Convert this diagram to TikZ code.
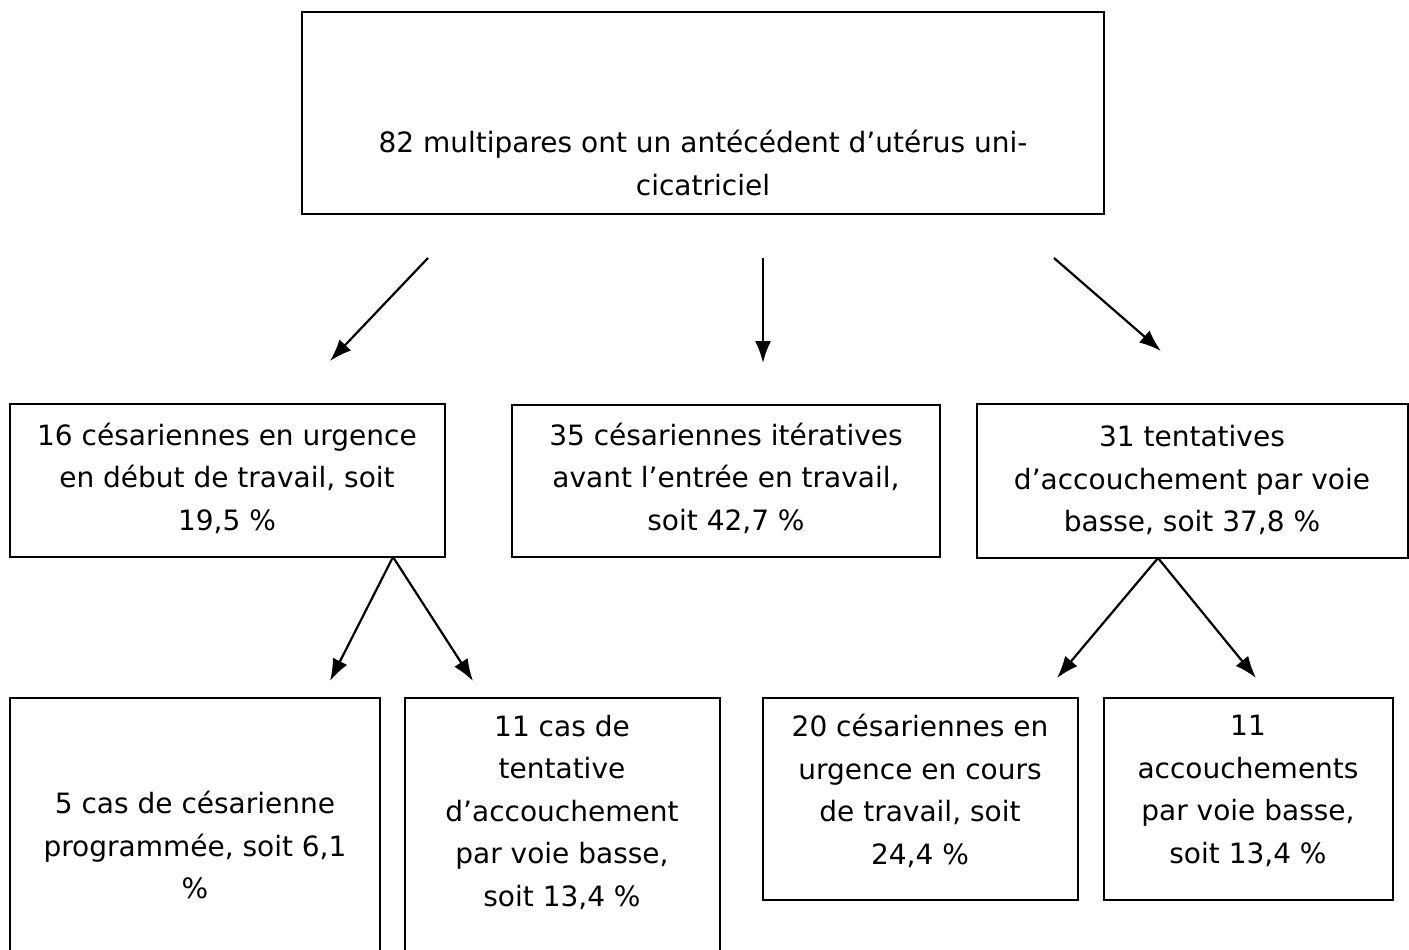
\documentclass[tikz,border=0pt]{standalone}
\usepackage{fontspec}
\setmainfont{DejaVu Sans}
\usetikzlibrary{arrows.meta}
\begin{document}
\begin{tikzpicture}[x=1pt,y=-1pt,
  box/.style={draw=black,line width=2.2pt,rectangle,inner sep=0pt},
  txt/.style={align=center,inner sep=0pt,font=\fontsize{28}{42.5}\selectfont},
  arr/.style={line width=2.2pt,-{Latex[length=22pt,width=16pt]}}]
\useasboundingbox (0,0) rectangle (1409,950);
\begin{scope}
\clip (0,0) rectangle (1409,950);
% boxes
\node[box,minimum width=802pt,minimum height=202pt] (top) at (703,113) {};
\node[box,minimum width=435pt,minimum height=153pt] (l1) at (227.5,480.5) {};
\node[box,minimum width=428pt,minimum height=152pt] (m1) at (726,481) {};
\node[box,minimum width=431pt,minimum height=154pt] (r1) at (1192.5,481) {};
\node[box,minimum width=370pt,minimum height=294pt] (b1) at (195,845) {};
\node[box,minimum width=315pt,minimum height=294pt] (b2) at (562.5,845) {};
\node[box,minimum width=315pt,minimum height=202pt] (b3) at (920.5,799) {};
\node[box,minimum width=289pt,minimum height=202pt] (b4) at (1248.5,799) {};
\end{scope}
% texts
\node[txt] (ttop) at (703,163) {82 multipares ont un antécédent d’utérus uni-\\cicatriciel};
\node[txt] (tl1) at (227,478) {16 césariennes en urgence\\en début de travail, soit\\19,5 \%};
\node[txt] (tm1) at (726,478) {35 césariennes itératives\\avant l’entrée en travail,\\soit 42,7 \%};
\node[txt] (tr1) at (1192,480) {31 tentatives\\d’accouchement par voie\\basse, soit 37,8 \%};
\node[txt] (tb1) at (195,845) {5 cas de césarienne\\programmée, soit 6,1\\\%};
\node[txt] (tb2) at (562,812) {11 cas de\\tentative\\d’accouchement\\par voie basse,\\soit 13,4 \%};
\node[txt] (tb3) at (920,791) {20 césariennes en\\urgence en cours\\de travail, soit\\24,4 \%};
\node[txt] (tb4) at (1248,791) {11\\accouchements\\par voie basse,\\soit 13,4 \%};
% arrow ends
\coordinate (s1) at (428,258);
\coordinate (e1) at (330,361);
\coordinate (s2) at (763,258);
\coordinate (e2) at (763,363);
\coordinate (s3) at (1054,258);
\coordinate (e3) at (1161,351);
\coordinate (sl) at (393,557);
\coordinate (el1) at (330,681);
\coordinate (el2) at (473,681);
\coordinate (sr) at (1158,558);
\coordinate (er1) at (1057,678);
\coordinate (er2) at (1256,678);
\draw[arr] (s1) -- (e1);
\draw[arr] (s2) -- (e2);
\draw[arr] (s3) -- (e3);
\draw[arr] (sl) -- (el1);
\draw[arr] (sl) -- (el2);
\draw[arr] (sr) -- (er1);
\draw[arr] (sr) -- (er2);
\end{tikzpicture}
\end{document}
